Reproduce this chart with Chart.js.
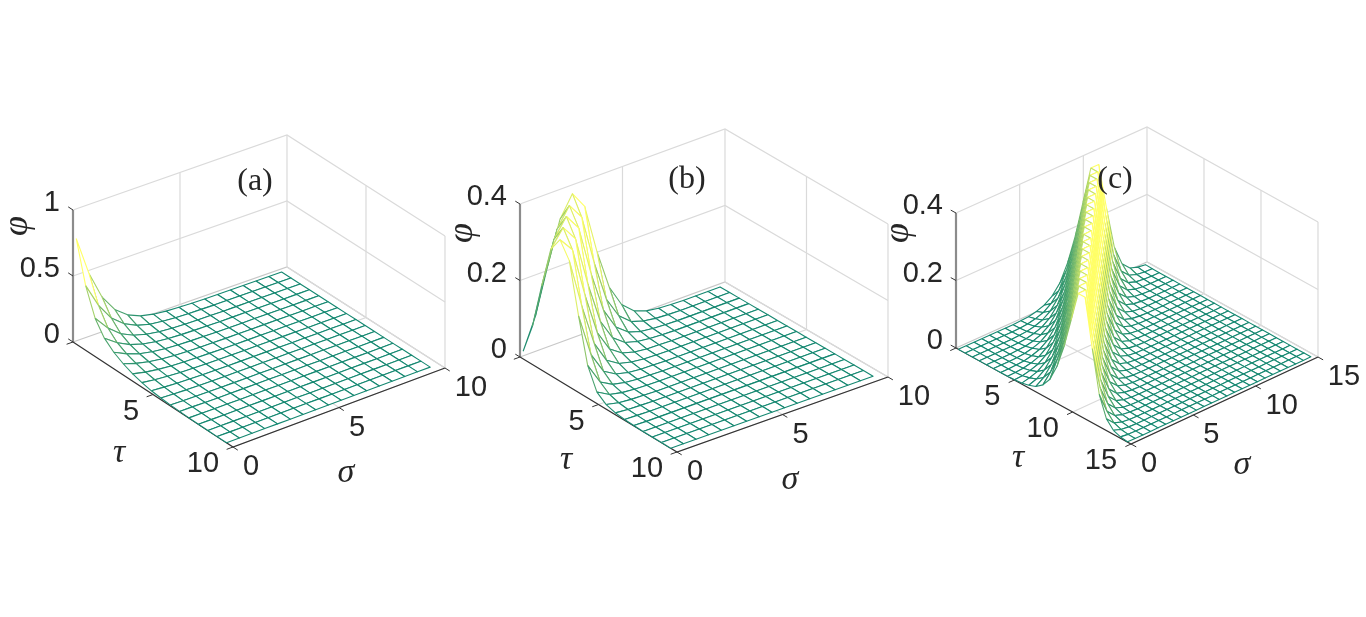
<!DOCTYPE html>
<html>
<head>
<meta charset="utf-8">
<title>phi surfaces</title>
<script src="https://cdn.jsdelivr.net/npm/chart.js@4"></script>
<style>
  html, body { margin: 0; padding: 0; background: #fff; }
  canvas { display: block; }
</style>
</head>
<body>
<canvas id="myChart" width="1366" height="617"></canvas>
<script>
// grid positions of the mesh
const sigmaAB = [0, 0.6, 1.2, 1.8, 2.4, 3, 3.6, 4.2, 4.8, 5.4, 6, 6.6, 7.2, 7.8, 8.4, 9, 9.6];
const tauAB = [0.2, 0.79, 1.38, 1.96, 2.55, 3.14, 3.73, 4.31, 4.9, 5.49, 6.08, 6.66, 7.25, 7.84, 8.43, 9.01, 9.6];
const sigmaC = [0, 0.61, 1.23, 1.84, 2.45, 3.06, 3.68, 4.29, 4.9, 5.51, 6.13, 6.74, 7.35, 7.96, 8.58, 9.19, 9.8, 10.41, 11.03, 11.64, 12.25, 12.86, 13.48, 14.09, 14.7];
const tauC = [0.2, 0.8, 1.41, 2.01, 2.62, 3.22, 3.83, 4.43, 5.03, 5.64, 6.24, 6.85, 7.45, 8.05, 8.66, 9.26, 9.87, 10.47, 11.07, 11.68, 12.28, 12.89, 13.49, 14.1, 14.7];

// phi, one row per tau, values left out at the end of a row are 0
const phiA = [
  [0.8, 0.5, 0.29, 0.16, 0.085, 0.043, 0.022, 0.011, 0.006, 0.003, 0.001],
  [0.49, 0.306, 0.176, 0.098, 0.052, 0.026, 0.014, 0.007, 0.003, 0.002],
  [0.29, 0.181, 0.104, 0.058, 0.031, 0.016, 0.008, 0.004, 0.002, 0.001],
  [0.185, 0.116, 0.067, 0.037, 0.02, 0.01, 0.005, 0.003, 0.001],
  [0.125, 0.078, 0.045, 0.025, 0.013, 0.007, 0.004, 0.002, 0.001],
  [0.085, 0.053, 0.031, 0.017, 0.009, 0.005, 0.002, 0.001],
  [0.055, 0.034, 0.02, 0.011, 0.006, 0.003, 0.002, 0.001],
  [0.035, 0.022, 0.013, 0.007, 0.004, 0.002, 0.001],
  [0.02, 0.013, 0.007, 0.004, 0.002, 0.001],
  [0.012, 0.008, 0.004, 0.002, 0.001],
  [0.007, 0.004, 0.003, 0.001],
  [0.004, 0.003, 0.001],
  [0.002, 0.001],
  [0.001],
  [],
  [],
  []
];
const phiB = [
  [0.02, 0.1, 0.22, 0.33, 0.385, 0.34, 0.21, 0.105, 0.048, 0.02, 0.008, 0.003, 0.001],
  [0.1, 0.22, 0.33, 0.38, 0.338, 0.208, 0.1, 0.045, 0.018, 0.008, 0.003, 0.001],
  [0.22, 0.33, 0.378, 0.336, 0.205, 0.098, 0.042, 0.017, 0.007, 0.003, 0.001],
  [0.33, 0.375, 0.334, 0.204, 0.095, 0.04, 0.016, 0.007, 0.003, 0.001],
  [0.37, 0.332, 0.203, 0.092, 0.037, 0.015, 0.006, 0.002, 0.001],
  [0.33, 0.2, 0.09, 0.034, 0.014, 0.006, 0.002, 0.001],
  [0.2, 0.087, 0.032, 0.013, 0.005, 0.002, 0.001],
  [0.085, 0.03, 0.012, 0.005, 0.002, 0.001],
  [0.03, 0.012, 0.005, 0.002, 0.001],
  [0.012, 0.005, 0.002, 0.001],
  [0.005, 0.002, 0.001],
  [0.002, 0.001],
  [0.001],
  [],
  [],
  [],
  []
];
const phiC = [
  [0, 0, 0, 0, 0, 0, 0, 0, 0.001, 0.003, 0.008, 0.016, 0.032, 0.06, 0.11, 0.18, 0.27, 0.36, 0.36, 0.22, 0.095, 0.035, 0.012, 0.004, 0.001],
  [0, 0, 0, 0, 0, 0, 0, 0.001, 0.003, 0.008, 0.016, 0.032, 0.06, 0.11, 0.18, 0.27, 0.36, 0.36, 0.22, 0.095, 0.035, 0.012, 0.004, 0.001],
  [0, 0, 0, 0, 0, 0, 0.001, 0.003, 0.008, 0.016, 0.032, 0.06, 0.11, 0.18, 0.27, 0.36, 0.36, 0.22, 0.095, 0.035, 0.012, 0.004, 0.001],
  [0, 0, 0, 0, 0, 0.001, 0.003, 0.008, 0.016, 0.032, 0.06, 0.11, 0.18, 0.27, 0.36, 0.36, 0.22, 0.095, 0.035, 0.012, 0.004, 0.001],
  [0, 0, 0, 0, 0.001, 0.003, 0.008, 0.016, 0.032, 0.06, 0.11, 0.18, 0.27, 0.36, 0.36, 0.22, 0.095, 0.035, 0.012, 0.004, 0.001],
  [0, 0, 0, 0.001, 0.003, 0.008, 0.016, 0.032, 0.06, 0.11, 0.18, 0.27, 0.36, 0.36, 0.22, 0.095, 0.035, 0.012, 0.004, 0.001],
  [0, 0, 0.001, 0.003, 0.008, 0.016, 0.032, 0.06, 0.11, 0.18, 0.27, 0.36, 0.36, 0.22, 0.095, 0.035, 0.012, 0.004, 0.001],
  [0, 0.001, 0.003, 0.008, 0.016, 0.032, 0.06, 0.11, 0.18, 0.27, 0.36, 0.36, 0.22, 0.095, 0.035, 0.012, 0.004, 0.001],
  [0.001, 0.003, 0.008, 0.016, 0.032, 0.06, 0.11, 0.18, 0.27, 0.36, 0.36, 0.22, 0.095, 0.035, 0.012, 0.004, 0.001],
  [0.003, 0.008, 0.016, 0.032, 0.06, 0.11, 0.18, 0.27, 0.36, 0.36, 0.22, 0.095, 0.035, 0.012, 0.004, 0.001],
  [0.008, 0.016, 0.032, 0.06, 0.11, 0.18, 0.27, 0.36, 0.36, 0.22, 0.095, 0.035, 0.012, 0.004, 0.001],
  [0.016, 0.032, 0.06, 0.11, 0.18, 0.27, 0.36, 0.36, 0.22, 0.095, 0.035, 0.012, 0.004, 0.001],
  [0.032, 0.06, 0.11, 0.18, 0.27, 0.36, 0.36, 0.22, 0.095, 0.035, 0.012, 0.004, 0.001],
  [0.06, 0.11, 0.18, 0.27, 0.36, 0.36, 0.22, 0.095, 0.035, 0.012, 0.004, 0.001],
  [0.11, 0.18, 0.27, 0.36, 0.36, 0.22, 0.095, 0.035, 0.012, 0.004, 0.001],
  [0.18, 0.27, 0.36, 0.36, 0.22, 0.095, 0.035, 0.012, 0.004, 0.001],
  [0.27, 0.36, 0.36, 0.22, 0.095, 0.035, 0.012, 0.004, 0.001],
  [0.36, 0.36, 0.22, 0.095, 0.035, 0.012, 0.004, 0.001],
  [0.36, 0.22, 0.095, 0.035, 0.012, 0.004, 0.001],
  [0.22, 0.095, 0.035, 0.012, 0.004, 0.001],
  [0.095, 0.035, 0.012, 0.004, 0.001],
  [0.035, 0.012, 0.004, 0.001],
  [0.012, 0.004, 0.001],
  [0.004, 0.001],
  [0.001]
];

// ticks
const phiTicksA = [0, 0.5, 1];
const phiLabelsA = ['0', '0.5', '1'];
const phiTicksBC = [0, 0.2, 0.4];
const phiLabelsBC = ['0', '0.2', '0.4'];
const ticksAB = [0, 5, 10];
const ticksC = [0, 5, 10, 15];

// where each 3D box lands on the page
const panels = [
  { name: '(a)', nameAt: [255, 182], sigma: sigmaAB, tau: tauAB, phi: phiA, phiTicks: phiTicksA, phiLabels: phiLabelsA, ticks: ticksAB,
    left: [73, 342], back: [287, 267], front: [233, 447], right: [445, 368], boxH: 132, tauAt: [119, 453], sigmaAt: [346, 473], phiAt: [18, 226] },
  { name: '(b)', nameAt: [687, 180], sigma: sigmaAB, tau: tauAB, phi: phiB, phiTicks: phiTicksBC, phiLabels: phiLabelsBC, ticks: ticksAB,
    left: [520, 357], back: [725, 282], front: [677, 452], right: [888, 377], boxH: 153, tauAt: [566, 460], sigmaAt: [790, 480], phiAt: [463, 233] },
  { name: '(c)', nameAt: [1115, 180], sigma: sigmaC, tau: tauC, phi: phiC, phiTicks: phiTicksBC, phiLabels: phiLabelsBC, ticks: ticksC,
    left: [956, 348], back: [1147, 262], front: [1131, 444], right: [1318, 357], boxH: 135, tauAt: [1018, 458], sigmaAt: [1242, 465], phiAt: [899, 233] }
];

const project = (p, s, t, z) => {
  const sMax = p.ticks[p.ticks.length - 1];
  const zMax = p.phiTicks[p.phiTicks.length - 1];
  const u = s / sMax, v = t / sMax;
  const x = (1 - v) * ((1 - u) * p.left[0] + u * p.back[0]) + v * ((1 - u) * p.front[0] + u * p.right[0]);
  const y = (1 - v) * ((1 - u) * p.left[1] + u * p.back[1]) + v * ((1 - u) * p.front[1] + u * p.right[1]);
  return { x: x, y: y - z / zMax * p.boxH };
};

const summer = (t) => `rgb(${Math.round(20 + 235 * t)},${Math.round(135 + 120 * t)},${Math.round(112 - 10 * t)})`;

const lineSet = (points, color, width) => ({
  data: points, borderColor: color, borderWidth: width, fill: false,
  pointRadius: 0, showLine: true, tension: 0, clip: false
});

// paint list, first entry goes down first
const paint = [];

panels.forEach((p) => {
  const S = p.ticks[p.ticks.length - 1];
  const Z = p.phiTicks[p.phiTicks.length - 1];
  const P = (s, t, z) => project(p, s, t, z);

  // back walls and floor
  p.phiTicks.forEach((z) => {
    const c = z === 0 ? '#c8c8c8' : '#dadada';
    paint.push(lineSet([P(0, 0, z), P(S, 0, z), P(S, S, z)], c, 1.2));
  });
  p.ticks.slice(1).forEach((v) => {
    paint.push(lineSet([P(v, S, 0), P(v, 0, 0), P(v, 0, Z)], '#dadada', 1.2));
    paint.push(lineSet([P(0, v, 0), P(S, v, 0), P(S, v, Z)], '#dadada', 1.2));
  });

  // axes and outward ticks
  paint.push(lineSet([P(0, 0, 0), P(0, 0, Z)], '#8c8c8c', 2.2));
  paint.push(lineSet([P(0, 0, 0), P(0, S, 0), P(S, S, 0)], '#333333', 1.2));
  const d = 0.03 * S;
  p.phiTicks.forEach((z) => paint.push(lineSet([P(0, 0, z), P(0, -d, z)], '#333333', 1)));
  p.ticks.forEach((v) => {
    paint.push(lineSet([P(0, v, 0), P(-d, v, 0)], '#333333', 1));
    paint.push(lineSet([P(v, S, 0), P(v, S + d, 0)], '#333333', 1));
  });

  // mesh cells from back to front so nearer ones hide what is behind them
  const val = (i, j) => p.phi[i][j] || 0;
  const top = Math.max(...p.phi.flat());
  for (let i = 0; i < p.tau.length - 1; i++) {
    for (let j = p.sigma.length - 2; j >= 0; j--) {
      const corners = [[i, j], [i, j + 1], [i + 1, j + 1], [i + 1, j], [i, j]];
      const pts = corners.map(([a, b]) => P(p.sigma[b], p.tau[a], val(a, b)));
      paint.push({
        data: pts, borderColor: summer(val(i, j) / top), borderWidth: 1.1, borderJoinStyle: 'round',
        backgroundColor: '#ffffff', fill: 'shape', pointRadius: 0, showLine: true, tension: 0, clip: false
      });
    }
  }
});

const textPlugin = {
  id: 'panelText',
  afterDraw(chart) {
    const ctx = chart.ctx;
    const sx = chart.scales.x, sy = chart.scales.y;
    const put = (str, x, y, font, align) => {
      ctx.font = font;
      ctx.textAlign = align || 'center';
      ctx.textBaseline = 'middle';
      ctx.fillText(str, sx.getPixelForValue(x), sy.getPixelForValue(y));
    };
    ctx.save();
    ctx.fillStyle = '#262626';
    const tickFont = '29px "Liberation Sans"';
    const mathFont = 'italic 34px "Liberation Serif"';
    panels.forEach((p) => {
      const S = p.ticks[p.ticks.length - 1];
      p.phiTicks.forEach((z, k) => {
        const a = project(p, 0, 0, z);
        put(p.phiLabels[k], a.x - 13, a.y - 7, tickFont, 'right');
      });
      p.ticks.forEach((v) => {
        const wide = v >= 10;
        if (v > 0) {
          const a = project(p, 0, v, 0);
          put(String(v), a.x + (wide ? -30 : -22), a.y + 17, tickFont);
        }
        const b = project(p, v, S, 0);
        put(String(v), b.x + (wide ? 26 : 18), b.y + 20, tickFont);
      });
      put('τ', p.tauAt[0], p.tauAt[1], mathFont);
      put('σ', p.sigmaAt[0], p.sigmaAt[1], mathFont);
      ctx.save();
      ctx.translate(sx.getPixelForValue(p.phiAt[0]), sy.getPixelForValue(p.phiAt[1]));
      ctx.rotate(-Math.PI / 2);
      ctx.font = 'italic 36px "Liberation Serif"';
      ctx.textAlign = 'center';
      ctx.textBaseline = 'middle';
      ctx.fillText('φ', 0, 0);
      ctx.restore();
      put(p.name, p.nameAt[0], p.nameAt[1], '32px "Liberation Serif"');
    });
    ctx.restore();
  }
};

const myChart = new Chart(document.getElementById('myChart').getContext('2d'), {
  type: 'scatter',
  data: { datasets: paint.slice().reverse() },
  plugins: [textPlugin],
  options: {
    responsive: false,
    animation: false,
    events: [],
    layout: { padding: 0 },
    scales: {
      x: { type: 'linear', min: 0, max: 1366, display: false },
      y: { type: 'linear', min: 0, max: 617, reverse: true, display: false }
    },
    plugins: {
      legend: { display: false },
      tooltip: { enabled: false },
      filler: { drawTime: 'beforeDatasetDraw' }
    }
  }
});
</script>
</body>
</html>
